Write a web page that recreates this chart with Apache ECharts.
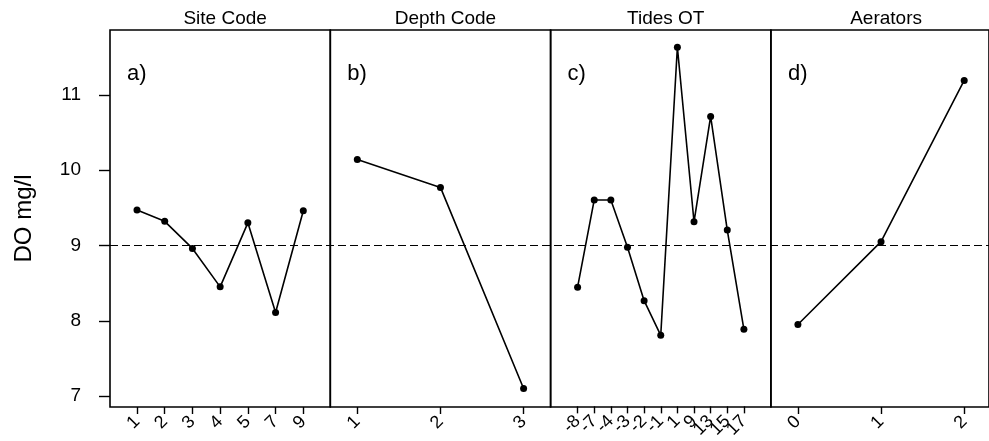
<!DOCTYPE html>
<html>
<head>
<meta charset="utf-8">
<script src="https://cdn.jsdelivr.net/npm/echarts@6/dist/echarts.min.js"></script>
<style>
  html, body { margin: 0; padding: 0; background: #fff; }
  #chart { width: 989px; height: 441px; }
</style>
</head>
<body>
<div id="chart"></div>
<script>
// Mean dissolved oxygen (mg/l) by factor level
const panelTitles = ['Site Code', 'Depth Code', 'Tides OT', 'Aerators'];
const panelTags = ['a)', 'b)', 'c)', 'd)'];

const siteCodes = ['1', '2', '3', '4', '5', '7', '9'];
const siteDO = [9.47, 9.32, 8.96, 8.45, 9.30, 8.11, 9.46];

const depthCodes = ['1', '2', '3'];
const depthDO = [10.14, 9.77, 7.10];

const tideCodes = ['-8', '-7', '-4', '-3', '-2', '-1', '1', '9', '13', '15', '17'];
const tideDO = [8.44, 9.60, 9.60, 8.97, 8.26, 7.80, 11.63, 9.31, 10.71, 9.20, 7.88];

const aeratorCodes = ['0', '1', '2'];
const aeratorDO = [7.95, 9.05, 11.19];

const yTicks = [7, 8, 9, 10, 11];
const overallMean = 9;

const panels = [
  { cats: siteCodes, vals: siteDO },
  { cats: depthCodes, vals: depthDO },
  { cats: tideCodes, vals: tideDO },
  { cats: aeratorCodes, vals: aeratorDO }
];

// layout (pixels)
const FONT = '"Liberation Sans", Arial, Helvetica, sans-serif';
const frameLeft = 110, frameW = 220.3, gridTop = 30, gridBottom = 34, inset = 27;
const yMin = 6.855, yMax = 11.86;

const grid = [], xAxis = [], yAxis = [], series = [], title = [];

panels.forEach((p, i) => {
  const left = frameLeft + i * frameW;
  // frame grid
  grid.push({ left: left, top: gridTop, width: frameW, bottom: gridBottom, show: true,
    borderColor: '#000', borderWidth: 1.6, backgroundColor: 'transparent' });
  xAxis.push({ gridIndex: grid.length - 1, type: 'value', min: 0, max: 1, show: false });
  yAxis.push({
    gridIndex: grid.length - 1, type: 'value', min: yMin, max: yMax,
    show: i === 0,
    name: i === 0 ? 'DO mg/l' : '',
    nameLocation: 'middle', nameGap: 74,
    nameTextStyle: { fontFamily: FONT, fontSize: 24, color: '#000' },
    axisLine: { show: false },
    axisTick: { show: true, length: 11, customValues: yTicks, lineStyle: { color: '#000', width: 1.4 } },
    axisLabel: { customValues: yTicks, margin: 29, fontFamily: FONT, fontSize: 19, color: '#000' },
    splitLine: { show: false }
  });

  // plotting grid inset from the frame
  grid.push({ left: left + inset, top: gridTop, width: frameW - 2 * inset, bottom: gridBottom, show: false });
  const gi = grid.length - 1;
  xAxis.push({
    gridIndex: gi, type: 'category', data: p.cats, boundaryGap: false,
    axisLine: { show: false },
    axisTick: { show: true, alignWithLabel: true, length: 7, lineStyle: { color: '#000', width: 1.4 } },
    axisLabel: { rotate: 45, margin: 12, interval: 0, fontFamily: FONT, fontSize: 18, color: '#000' },
    splitLine: { show: false }
  });
  yAxis.push({ gridIndex: gi, type: 'value', min: yMin, max: yMax, show: false });
  series.push({
    type: 'line', xAxisIndex: xAxis.length - 1, yAxisIndex: yAxis.length - 1,
    data: p.vals, symbol: 'circle', symbolSize: 7,
    itemStyle: { color: '#000' },
    lineStyle: { color: '#000', width: 1.6 },
    silent: true, animation: false
  });

  title.push({ text: panelTitles[i], left: left + frameW / 2, top: 4, textAlign: 'center',
    textStyle: { fontFamily: FONT, fontSize: 19, fontWeight: 'normal', color: '#000' } });
  title.push({ text: panelTags[i], left: left + 12, top: 58,
    textStyle: { fontFamily: FONT, fontSize: 22, fontWeight: 'normal', color: '#000' } });
});

// dashed overall mean line across all panels
grid.push({ left: frameLeft, top: gridTop, right: 0, bottom: gridBottom, show: false });
xAxis.push({ gridIndex: grid.length - 1, type: 'value', min: 0, max: 1, show: false });
yAxis.push({ gridIndex: grid.length - 1, type: 'value', min: yMin, max: yMax, show: false });
series.push({
  type: 'line', xAxisIndex: xAxis.length - 1, yAxisIndex: yAxis.length - 1,
  data: [[0, overallMean], [1, overallMean]], symbol: 'none',
  lineStyle: { color: '#000', width: 1.1, type: [8, 4] },
  silent: true, animation: false, z: 1
});

const chart = echarts.init(document.getElementById('chart'), null, { renderer: 'canvas' });
chart.setOption({ animation: false, backgroundColor: '#fff', title, grid, xAxis, yAxis, series });
</script>
</body>
</html>
